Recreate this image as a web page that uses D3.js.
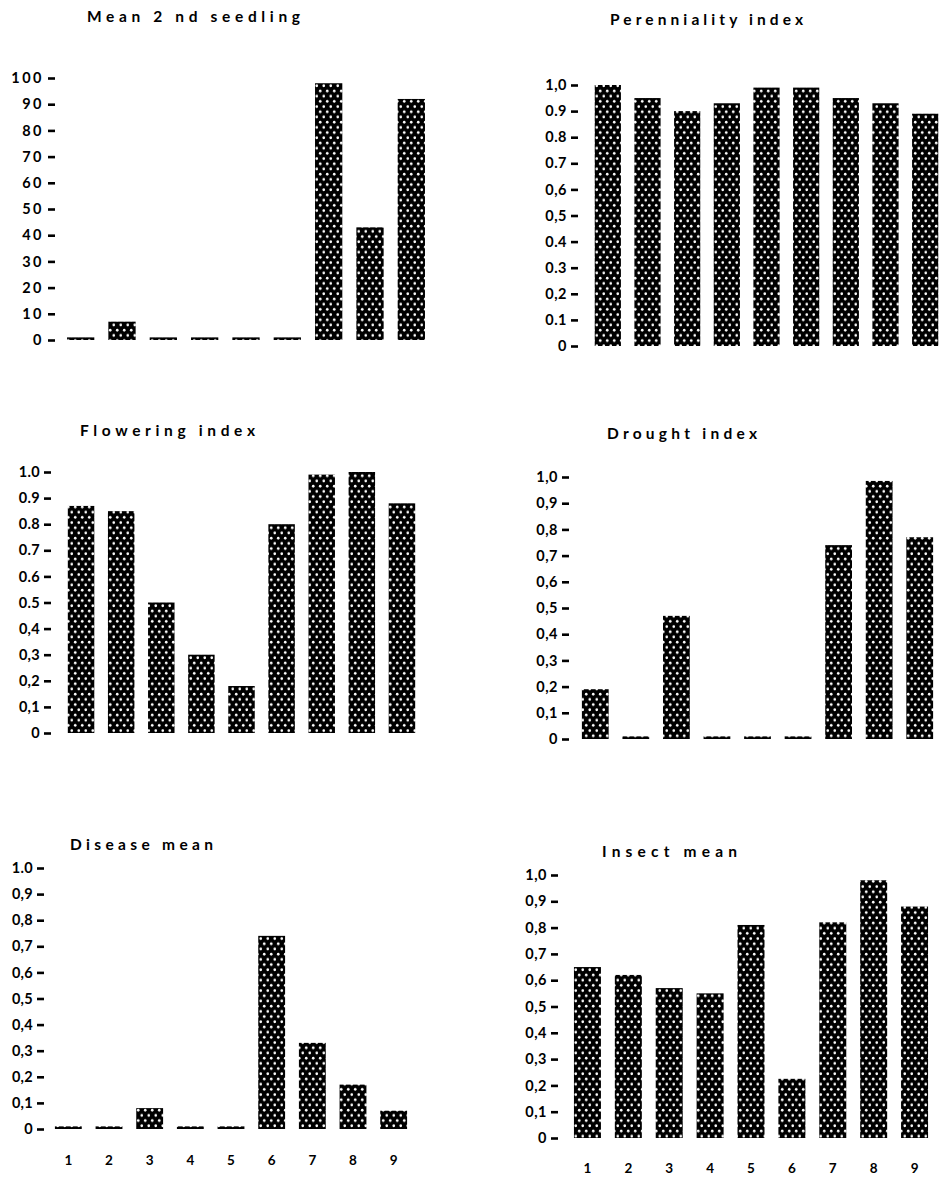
<!DOCTYPE html>
<html>
<head>
<meta charset="utf-8">
<script src="https://cdn.jsdelivr.net/npm/d3@7"></script>
<style>
  html, body { margin: 0; padding: 0; background: #fff; }
  svg { display: block; }
  text { font-family: Lato, "Open Sans", sans-serif; fill: #000; }
</style>
</head>
<body>
<svg id="chart" width="939" height="1181"></svg>
<script>
// Cultivars 1..9
const categories = ["1", "2", "3", "4", "5", "6", "7", "8", "9"];

// Series values per cultivar
const seedlingMean = [1, 7, 1, 1, 1, 1, 98, 43, 92];
const perenniality = [1.0, 0.95, 0.90, 0.93, 0.99, 0.99, 0.95, 0.93, 0.89];
const flowering = [0.87, 0.85, 0.50, 0.30, 0.18, 0.80, 0.99, 1.0, 0.88];
const drought = [0.19, 0.01, 0.47, 0.01, 0.01, 0.01, 0.74, 0.985, 0.77];
const disease = [0.01, 0.01, 0.08, 0.01, 0.01, 0.74, 0.33, 0.17, 0.07];
const insect = [0.65, 0.62, 0.57, 0.55, 0.81, 0.225, 0.82, 0.98, 0.88];

// Y tick values and their printed labels
const seedlingTicks = [0, 10, 20, 30, 40, 50, 60, 70, 80, 90, 100];
const seedlingTickLabels = ["0", "10", "20", "30", "40", "50", "60", "70", "80", "90", "100"];
const indexTicks = [0, 0.1, 0.2, 0.3, 0.4, 0.5, 0.6, 0.7, 0.8, 0.9, 1.0];
const perennialityTickLabels = ["0", "0.1", "0,2", "0.3", "0.4", "0,5", "0,6", "0.7", "0.8", "0.9", "1,0"];
const floweringTickLabels = ["0", "0,1", "0,2", "0,3", "0,4", "0.5", "0.6", "0.7", "0.8", "0.9", "1.0"];
const droughtTickLabels = ["0", "0,1", "0,2", "0,3", "0,4", "0,5", "0,6", "0,7", "0,8", "0,9", "1,0"];
const diseaseTickLabels = ["0", "0,1", "0,2", "0,3", "0,4", "0,5", "0,6", "0,7", "0,8", "0,9", "1.0"];
const insectTickLabels = ["0", "0,1", "0,2", "0,3", "0,4", "0,5", "0,6", "0,7", "0,8", "0,9", "1,0"];

// Panel titles
const titles = ["Mean 2 nd seedling", "Perenniality index", "Flowering index",
                "Drought index", "Disease mean", "Insect mean"];

const svg = d3.select("#chart");

// Black fill with a staggered grid of white dots
const defs = svg.append("defs");
const pat = defs.append("pattern")
  .attr("id", "dots")
  .attr("patternUnits", "userSpaceOnUse")
  .attr("width", 7).attr("height", 10.4);
pat.append("rect").attr("width", 7).attr("height", 10.4).attr("fill", "#000");
pat.append("circle").attr("cx", 1.75).attr("cy", 2.6).attr("r", 1.35).attr("fill", "#fff");
pat.append("circle").attr("cx", 5.25).attr("cy", 7.8).attr("r", 1.35).attr("fill", "#fff");

// Layout of each panel
const panels = [
  { title: titles[0], values: seedlingMean, max: 100, ticks: seedlingTicks, labels: seedlingTickLabels,
    x0: 60, x1: 432, yBase: 340, yTop: 78, axisX: 55, titleX: 87, titleY: 22, titleW: 213,
    tickSpacing: 2.5, xLabels: false },
  { title: titles[1], values: perenniality, max: 1, ticks: indexTicks, labels: perennialityTickLabels,
    x0: 588, x1: 945, yBase: 346, yTop: 85, axisX: 578, titleX: 610, titleY: 25, titleW: 193,
    tickSpacing: 0.5, xLabels: false },
  { title: titles[2], values: flowering, max: 1, ticks: indexTicks, labels: floweringTickLabels,
    x0: 61, x1: 422, yBase: 733, yTop: 472, axisX: 51, titleX: 80, titleY: 436, titleW: 175,
    tickSpacing: 0.3, xLabels: false },
  { title: titles[3], values: drought, max: 1, ticks: indexTicks, labels: droughtTickLabels,
    x0: 575, x1: 940, yBase: 739, yTop: 477, axisX: 569, titleX: 607, titleY: 439, titleW: 150,
    tickSpacing: 0.5, xLabels: false },
  { title: titles[4], values: disease, max: 1, ticks: indexTicks, labels: diseaseTickLabels,
    x0: 48, x1: 414, yBase: 1129, yTop: 868, axisX: 44, titleX: 70, titleY: 850, titleW: 143,
    tickSpacing: 0.3, xLabels: true, xLabelY: 1165 },
  { title: titles[5], values: insect, max: 1, ticks: indexTicks, labels: insectTickLabels,
    x0: 567, x1: 935, yBase: 1138, yTop: 875, axisX: 558, titleX: 602, titleY: 857, titleW: 135,
    tickSpacing: 0.5, xLabels: true, xLabelY: 1173 }
];

panels.forEach(p => {
  const g = svg.append("g");

  const x = d3.scaleBand().domain(categories).range([p.x0, p.x1]).paddingInner(0.34).paddingOuter(0.17);
  const y = d3.scaleLinear().domain([0, p.max]).range([p.yBase, p.yTop]);

  // Title
  g.append("text")
    .attr("x", p.titleX).attr("y", p.titleY)
    .attr("textLength", p.titleW).attr("lengthAdjust", "spacing")
    .style("font-size", "15.5px").style("font-weight", 700)
    .text(p.title);

  // Y axis: short dash after each label, no domain line
  const axis = d3.axisLeft(y)
    .tickValues(p.ticks)
    .tickSize(7)
    .tickPadding(4)
    .tickFormat((d, i) => p.labels[i]);
  const ag = g.append("g").attr("transform", `translate(${p.axisX},0)`).call(axis);
  ag.select(".domain").remove();
  ag.selectAll(".tick line").attr("stroke", "#000").attr("stroke-width", 2.6);
  ag.selectAll(".tick text")
    .attr("fill", "#000")
    .style("font-family", "Lato, 'Open Sans', sans-serif")
    .style("font-size", "14.5px")
    .style("font-weight", 700)
    .style("letter-spacing", p.tickSpacing + "px");

  // Bars
  g.selectAll("rect.bar")
    .data(p.values)
    .join("rect")
    .attr("class", "bar")
    .attr("x", (d, i) => x(categories[i]))
    .attr("width", x.bandwidth())
    .attr("y", d => y(d))
    .attr("height", d => y(0) - y(d))
    .attr("fill", "url(#dots)");

  // Category labels under the bottom row
  if (p.xLabels) {
    g.selectAll("text.cat")
      .data(categories)
      .join("text")
      .attr("class", "cat")
      .attr("x", d => x(d) + x.bandwidth() / 2)
      .attr("y", p.xLabelY)
      .attr("text-anchor", "middle")
      .style("font-size", "13.5px")
      .style("font-weight", 700)
      .text(d => d);
  }
});
</script>
</body>
</html>
